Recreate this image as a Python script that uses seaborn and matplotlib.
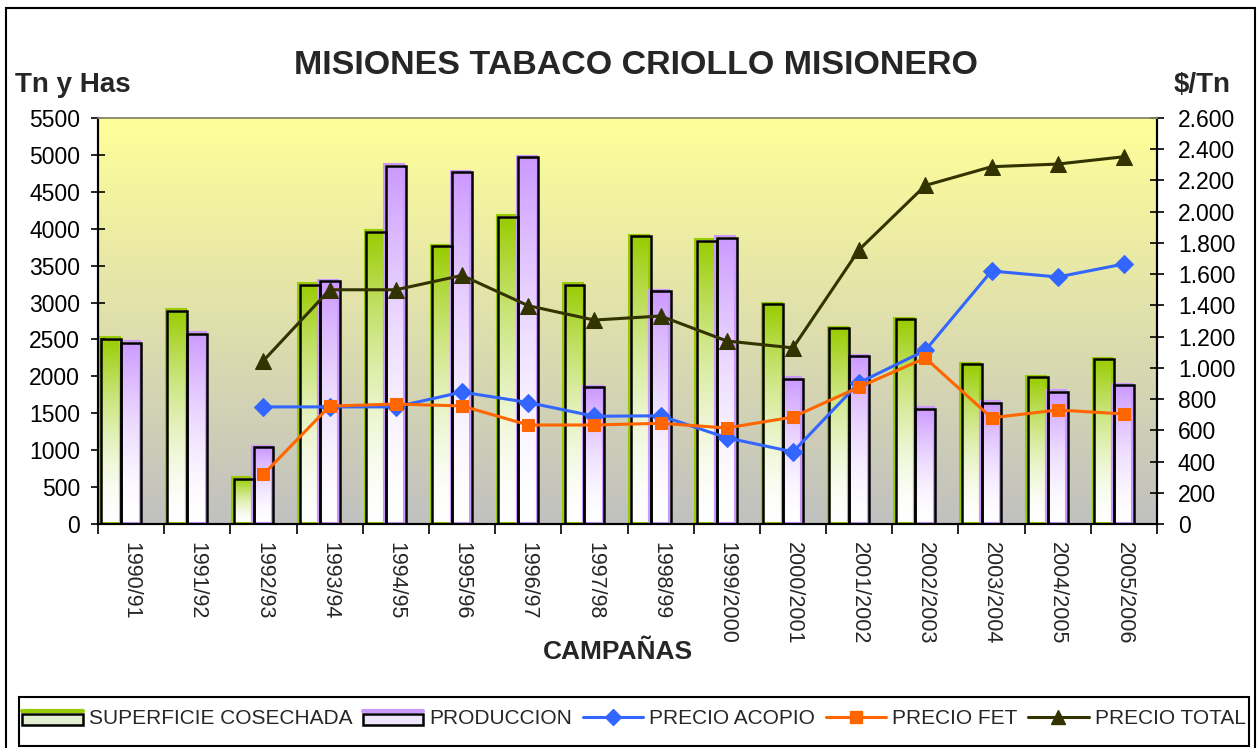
import numpy as np
import pandas as pd
import matplotlib
matplotlib.use("Agg")
import matplotlib.pyplot as plt
import seaborn as sns
from matplotlib.patches import Rectangle
from matplotlib.lines import Line2D
from matplotlib.legend_handler import HandlerBase
from matplotlib.colors import to_rgb
import matplotlib.transforms as mtransforms
from matplotlib.ticker import FuncFormatter, MultipleLocator, FixedLocator

# ---------------- data ----------------
campanas = ["1990/91", "1991/92", "1992/93", "1993/94", "1994/95", "1995/96",
            "1996/97", "1997/98", "1998/99", "1999/2000", "2000/2001", "2001/2002",
            "2002/2003", "2003/2004", "2004/2005", "2005/2006"]
superficie = [2510, 2890, 615, 3240, 3960, 3760, 4165, 3240, 3900, 3835,
              2980, 2655, 2775, 2165, 1990, 2235]
produccion = [2455, 2575, 1040, 3290, 4855, 4765, 4965, 1850, 3155, 3875,
              1965, 2275, 1560, 1640, 1790, 1880]
nan = np.nan
precio_acopio = [nan, nan, 750, 750, 750, 845, 778, 690, 693, 552,
                 462, 905, 1112, 1620, 1582, 1665]
precio_fet = [nan, nan, 318, 755, 768, 756, 634, 634, 645, 615,
              685, 877, 1063, 680, 730, 705]
precio_total = [nan, nan, 1046, 1500, 1500, 1592, 1398, 1306, 1332, 1172,
                1128, 1757, 2168, 2288, 2305, 2352]

bar_names = ["SUPERFICIE COSECHADA", "PRODUCCION"]
line_names = ["PRECIO ACOPIO", "PRECIO FET", "PRECIO TOTAL"]

# ---------------- style ----------------
sns.set_theme(style="white")
plt.rcParams["font.family"] = ["Liberation Sans", "DejaVu Sans"]

W, H = 1260, 748
fig = plt.figure(figsize=(W / 100, H / 100), dpi=100)
L, R, T, B = 98, 1157, 118, 524
ax = fig.add_axes([L / W, 1 - B / H, (R - L) / W, (B - T) / H])

# long-form bar data (third hidden series reserves space, as in the original)
df_bars = pd.DataFrame({
    "Campaña": campanas * 3,
    "Valor": superficie + produccion + [0] * len(campanas),
    "Serie": [bar_names[0]] * len(campanas) + [bar_names[1]] * len(campanas)
             + ["_hidden"] * len(campanas),
})
bar_colors = {"SUPERFICIE COSECHADA": "#99CC00", "PRODUCCION": "#CC99FF", "_hidden": "#ffffff"}
sns.barplot(data=df_bars, x="Campaña", y="Valor", hue="Serie",
            hue_order=bar_names + ["_hidden"], palette=bar_colors,
            width=0.9, saturation=1, legend=False, ax=ax, order=campanas)

ax.set_xlim(-0.5, len(campanas) - 0.5)
ax.set_ylim(0, 5500)

# background gradient (yellow top -> gray bottom)
top_c = np.array(to_rgb("#FFFF99"))
bot_c = np.array(to_rgb("#C0C0C0"))
t = np.linspace(0, 1, 256)[:, None]
bg = bot_c[None, :] * (1 - t) + top_c[None, :] * t
bg = bg[:, None, :]
ax.imshow(bg, extent=[0, 1, 0, 1], transform=ax.transAxes, aspect="auto",
          origin="lower", zorder=0)

# gradient fill for bars
off = mtransforms.offset_copy(ax.transData, fig=fig, x=-1.5, y=1.5, units="dots")
for cont, name in zip(ax.containers, bar_names + ["_hidden"]):
    for p in cont.patches:
        if name == "_hidden":
            p.set_visible(False)
            continue
        x0, y0, w, h = p.get_x(), p.get_y(), p.get_width(), p.get_height()
        c = np.array(to_rgb(bar_colors[name]))
        tt = np.linspace(0, 1, 200)[:, None] ** 1.7
        g = np.ones(3)[None, :] * (1 - tt) + c[None, :] * tt
        im = ax.imshow(g[:, None, :], extent=[x0, x0 + w, y0, y0 + h],
                       aspect="auto", origin="lower", zorder=2)
        im.set_clip_path(p)
        p.set_facecolor("none")
        p.set_edgecolor("black")
        p.set_linewidth(1.8)
        p.set_zorder(3)
        ax.add_patch(Rectangle((x0, y0), w, h, facecolor="none",
                               edgecolor=bar_colors[name], linewidth=1.5,
                               transform=off, zorder=2.5))

ax.set_xlim(-0.5, len(campanas) - 0.5)
ax.set_ylim(0, 5500)

# ---------------- lines on secondary axis ----------------
ax2 = ax.twinx()
pos = np.arange(len(campanas))
line_specs = [
    (precio_acopio, "#3366FF", "D", 9),
    (precio_fet, "#FF6600", "s", 9),
    (precio_total, "#333300", "^", 11),
]
for vals, col, mk, ms in line_specs:
    d = pd.DataFrame({"x": pos, "y": vals}).dropna()
    sns.lineplot(data=d, x="x", y="y", ax=ax2, color=col, marker=mk,
                 markersize=ms, markeredgecolor=col, linewidth=2.2, zorder=5)

ax2.set_ylim(0, 2600)
ax.set_xlim(-0.5, len(campanas) - 0.5)
ax2.set_xlim(-0.5, len(campanas) - 0.5)
ax2.set_ylabel("")
ax.set_ylabel("")
ax.set_xlabel("")
ax2.set_xlabel("")

# ---------------- axes styling ----------------
fs_tick = 16.5
ax.yaxis.set_major_locator(MultipleLocator(500))
ax.yaxis.set_major_formatter(FuncFormatter(lambda v, p: f"{int(v)}"))
ax.tick_params(axis="y", which="major", direction="inout", length=10, width=1.2,
               colors="black", labelsize=fs_tick, pad=8, left=True)
ax2.yaxis.set_major_locator(MultipleLocator(200))
ax2.yaxis.set_major_formatter(FuncFormatter(lambda v, p: f"{int(v):,}".replace(",", ".")))
ax2.tick_params(axis="y", which="major", direction="inout", length=10, width=1.2,
                colors="black", labelsize=fs_tick, pad=10, right=True)

ax.set_xticks(pos)
ax.set_xticklabels(campanas, rotation=270, fontsize=15.5, ha="center", va="top")
ax.tick_params(axis="x", which="major", length=0, pad=13)
ax.xaxis.set_minor_locator(FixedLocator(np.arange(-0.5, len(campanas), 1.0)))
ax.tick_params(axis="x", which="minor", direction="out", length=7, width=1.2,
               bottom=True, colors="black")
ax2.tick_params(axis="x", which="both", length=0, labelbottom=False)

for a in (ax, ax2):
    a.spines["left"].set_color("black")
    a.spines["bottom"].set_color("black")
    a.spines["right"].set_color("black")
    a.spines["top"].set_color("#8f8f70")
    for s in ("left", "bottom", "right"):
        a.spines[s].set_linewidth(1.5)
    a.spines["top"].set_linewidth(1.2)
    a.grid(False)

# ---------------- texts ----------------
fig.text(636 / W, 1 - 74 / H, "MISIONES TABACO CRIOLLO MISIONERO",
         fontsize=24.5, fontweight="bold", ha="center", va="baseline")
fig.text(15 / W, 1 - 92 / H, "Tn y Has", fontsize=20, fontweight="bold",
         ha="left", va="baseline")
fig.text(1231 / W, 1 - 92 / H, "$/Tn", fontsize=20, fontweight="bold",
         ha="right", va="baseline")
fig.text(618 / W, 1 - 652 / H, "CAMPAÑAS", fontsize=19, fontweight="bold",
         ha="center", va="center")

# ---------------- frames ----------------
fig.add_artist(Rectangle((6 / W, -0.05), (1255 - 6) / W, 1.05 - 8 / H,
                         transform=fig.transFigure, facecolor="none",
                         edgecolor="black", linewidth=1.5))
fig.add_artist(Rectangle((19 / W, 1 - 746 / H), (1249 - 19) / W, (746 - 697) / H,
                         transform=fig.transFigure, facecolor="none",
                         edgecolor="black", linewidth=1.5))

# ---------------- legend ----------------
class BarHandler(HandlerBase):
    def __init__(self, edge, face):
        super().__init__()
        self.edge = edge
        self.face = face

    def create_artists(self, legend, orig_handle, xdescent, ydescent, width,
                       height, fontsize, trans):
        x0, y0 = -xdescent, -ydescent
        h = height * 0.75
        rect = Rectangle((x0, y0), width, h, facecolor=self.face,
                         edgecolor="black", linewidth=1.8, transform=trans)
        top = Line2D([x0, x0 + width], [y0 + h + 1.5, y0 + h + 1.5],
                     color=self.edge, linewidth=3, transform=trans)
        return [rect, top]

h_sup = Rectangle((0, 0), 1, 1)
h_prod = Rectangle((0, 0), 1, 1)
handles = [h_sup, h_prod]
for vals, col, mk, ms in line_specs:
    handles.append(Line2D([], [], color=col, marker=mk, markersize=ms - 1,
                          markeredgecolor=col, linewidth=2.2))
labels = bar_names + line_names
fig.legend(handles, labels, loc="center", bbox_to_anchor=(634 / W, 1 - 719 / H),
           ncol=5, frameon=False, fontsize=15, handlelength=2.9,
           handletextpad=0.3, columnspacing=0.5, numpoints=1,
           handler_map={h_sup: BarHandler("#99CC00", "#E4EFD2"),
                        h_prod: BarHandler("#CC99FF", "#EEE6FC")})

fig.savefig("out.png", dpi=100)
